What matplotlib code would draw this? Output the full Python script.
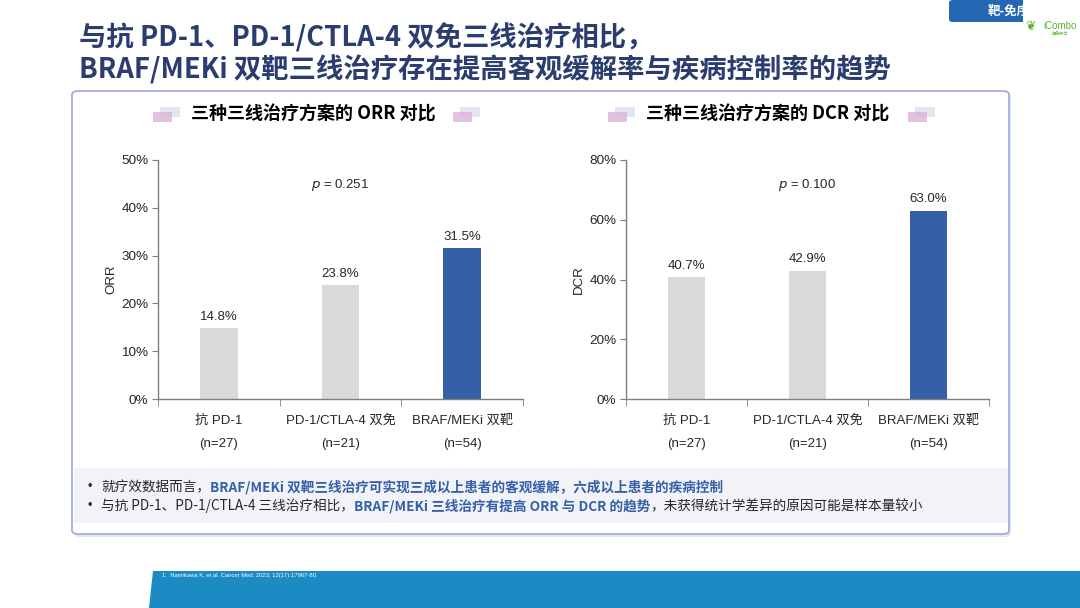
import numpy as np
import matplotlib
matplotlib.use("Agg")
import matplotlib.pyplot as plt
from matplotlib.patches import Rectangle, FancyBboxPatch, Polygon

# data
groups = ["抗 PD-1", "PD-1/CTLA-4 双免", "BRAF/MEKi 双靶"]
counts = ["(n=27)", "(n=21)", "(n=54)"]
orr = [14.8, 23.8, 31.5]
dcr = [40.7, 42.9, 63.0]
p_orr = "0.251"
p_dcr = "0.100"

title1 = "与抗 PD-1、PD-1/CTLA-4 双免三线治疗相比，"
title2 = "BRAF/MEKi 双靶三线治疗存在提高客观缓解率与疾病控制率的趋势"
bullets = [
    [("就疗效数据而言，", False),
     ("BRAF/MEKi 双靶三线治疗可实现三成以上患者的客观缓解，六成以上患者的疾病控制", True)],
    [("与抗 PD-1、PD-1/CTLA-4 三线治疗相比，", False),
     ("BRAF/MEKi 三线治疗有提高 ORR 与 DCR 的趋势", True),
     ("，未获得统计学差异的原因可能是样本量较小", False)],
]
footnote = "1.  Namikawa K, et al. Cancer Med. 2023; 12(17):17967-80."

plt.rcParams['font.family'] = ['Liberation Sans', 'Noto Sans CJK SC']
CJK = ['Noto Sans CJK SC', 'DejaVu Sans']
W, H = 1080, 608
NAVY = "#2a3d6e"
BLUE = "#3560a8"
GREY = "#d9d9d9"
TXT = "#262626"

fig = plt.figure(figsize=(10.8, 6.08), dpi=100)
fig.patch.set_facecolor("white")


def fx(x):
    return x / W


def fy(y):
    return 1 - y / H


# title
fig.text(fx(79), fy(38), title1, family=CJK, fontsize=19.7, weight="bold",
         color=NAVY, va="center", ha="left")
fig.text(fx(79), fy(70), title2, family=CJK, fontsize=19.7, weight="bold",
         color=NAVY, va="center", ha="left")

# top right tab
fig.patches.append(FancyBboxPatch((fx(949), fy(22)), fx(140), fy(0) - fy(22),
                                  boxstyle="round,pad=0,rounding_size=0.004",
                                  transform=fig.transFigure, facecolor="#2467b3",
                                  edgecolor="none"))
fig.text(fx(988), fy(11), "靶-免序", family=CJK, fontsize=9, weight="bold",
         color="white", va="center", ha="left")
fig.patches.append(Rectangle((fx(1023), fy(36)), fx(57), fy(0) - fy(36),
                             transform=fig.transFigure, facecolor="white",
                             edgecolor="none", zorder=3))
fig.text(fx(1031), fy(27), "❦", fontsize=9, color="#5cb531", va="center",
         ha="center", zorder=4, family=['DejaVu Sans'])
fig.text(fx(1043), fy(26), "iCombo", fontsize=7, color="#5cb531", va="center",
         ha="left", zorder=4)
fig.text(fx(1060), fy(34), "靶免联合", family=CJK, fontsize=3, color="#5cb531",
         va="center", ha="center", zorder=4)

# panel with shadow
fig.patches.append(FancyBboxPatch((fx(74), fy(537)), fx(937), fy(93) - fy(537),
                                  boxstyle="round,pad=0,rounding_size=0.006",
                                  transform=fig.transFigure, facecolor="#e6e8ef",
                                  edgecolor="none", zorder=0))
fig.patches.append(FancyBboxPatch((fx(72), fy(534)), fx(937), fy(91) - fy(534),
                                  boxstyle="round,pad=0,rounding_size=0.006",
                                  transform=fig.transFigure, facecolor="white",
                                  edgecolor="#9aa8dc", linewidth=1.2, zorder=0.5))
fig.patches.append(Rectangle((fx(73.5), fy(523)), fx(934), fy(468) - fy(523),
                             transform=fig.transFigure, facecolor="#f2f3f9",
                             edgecolor="none", zorder=0.6))

# bottom band
fig.patches.append(Polygon([(fx(149), 0), (fx(153), fy(571)), (1, fy(571)), (1, 0)],
                           closed=True, transform=fig.transFigure,
                           facecolor="#1c8bc4", edgecolor="none"))
fig.text(fx(162), fy(575), footnote, fontsize=4.2, color="white", va="center",
         ha="left")


def subtitle(cx, text):
    fig.text(fx(cx), fy(114), text, family=CJK, fontsize=13, weight="bold",
             color="black", ha="center", va="center")
    for sx in (cx - 160, cx + 140):
        fig.patches.append(Rectangle((fx(sx + 7), fy(117)), fx(20), fy(107) - fy(117),
                                     transform=fig.transFigure,
                                     facecolor="#dfe4f1", edgecolor="none", alpha=0.9))
        fig.patches.append(Rectangle((fx(sx), fy(122)), fx(19), fy(112) - fy(122),
                                     transform=fig.transFigure,
                                     facecolor="#d9aed4", edgecolor="none", alpha=0.75))


subtitle(313, "三种三线治疗方案的 ORR 对比")
subtitle(768, "三种三线治疗方案的 DCR 对比")


def bar_panel(rect, values, ymax, step, ylabel, pval):
    ax = fig.add_axes(rect)
    ax.set_zorder(2)
    x = np.arange(len(values))
    ax.bar(x, values, width=0.31, color=[GREY, GREY, BLUE], zorder=2)
    for xi, v in zip(x, values):
        ax.annotate(f"{v:.1f}%", (xi, v), xytext=(0, 4), textcoords="offset points",
                    ha="center", va="bottom", fontsize=9.5, color=TXT)
    ax.text(1, ymax * 0.895, f"$p$ = {pval}", ha="center", va="center",
            fontsize=9.5, color=TXT)
    ax.set_xlim(-0.5, 2.5)
    ax.set_ylim(0, ymax)
    ax.set_yticks(np.arange(0, ymax + 0.1, step))
    ax.set_yticklabels([f"{int(t)}%" for t in np.arange(0, ymax + 0.1, step)])
    ax.set_xticks(x)
    ax.set_xticklabels([f"{g}\n{c}" for g, c in zip(groups, counts)],
                       linespacing=2.25, family=['Liberation Sans', 'Noto Sans CJK SC'])
    ax.set_xticks([-0.5, 0.5, 1.5, 2.5], minor=True)
    ax.tick_params(axis="x", which="major", length=0, pad=11, labelsize=9.5,
                   colors=TXT)
    ax.tick_params(axis="x", which="minor", length=5, direction="out",
                   color="#7f7f7f")
    ax.tick_params(axis="y", length=4, direction="out", color="#7f7f7f",
                   labelsize=9.7, labelcolor=TXT, pad=3)
    for s in ("top", "right"):
        ax.spines[s].set_visible(False)
    for s in ("left", "bottom"):
        ax.spines[s].set_color("#7f7f7f")
        ax.spines[s].set_linewidth(1)
    ax.set_ylabel(ylabel, fontsize=9.5, color=TXT, labelpad=3)
    ax.patch.set_alpha(0)
    return ax


bar_panel([fx(158), fy(399), fx(365), fy(160) - fy(399)], orr, 50, 10, "ORR", p_orr)
bar_panel([fx(626), fy(399), fx(363), fy(160) - fy(399)], dcr, 80, 20, "DCR", p_dcr)

# bullets with mixed colour runs
fig.canvas.draw()
renderer = fig.canvas.get_renderer()
for i, line in enumerate(bullets):
    yy = fy(487 + 19 * i)
    fig.text(fx(88), yy, "•", fontsize=9, color=TXT, va="center", ha="left")
    xpos = fx(101)
    for txt, bold in line:
        t = fig.text(xpos, yy, txt, family=CJK, fontsize=9.8,
                     weight="bold" if bold else "normal",
                     color=BLUE if bold else TXT, va="center", ha="left")
        bb = t.get_window_extent(renderer)
        xpos += bb.width / W

fig.savefig("out.png", dpi=100)
